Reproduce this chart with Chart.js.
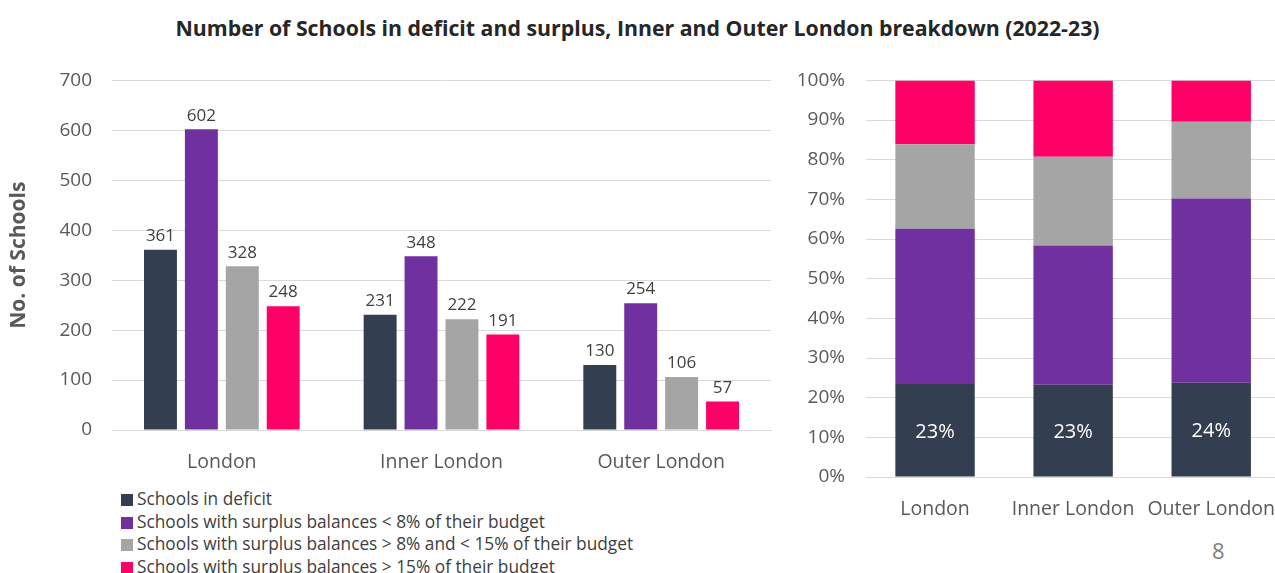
<!DOCTYPE html>
<html>
<head>
<meta charset="utf-8">
<script src="https://cdn.jsdelivr.net/npm/chart.js@4"></script>
<style>
  html, body { margin: 0; padding: 0; background: #ffffff; overflow: hidden; }
  body { width: 1275px; height: 573px; position: relative; font-family: 'Open Sans', sans-serif; }
  #title { position: absolute; left: 0; top: 13px; width: 1275px; text-align: center;
           font-weight: bold; font-size: 21.3px; color: #262626; }
  #countWrap { position: absolute; left: 0; top: 49px; width: 780px; height: 431px; }
  #shareWrap { position: absolute; left: 780px; top: 48px; width: 508px; height: 479px; }
  #legend { position: absolute; left: 121px; top: 488px; font-size: 17.3px; color: #404040; line-height: 22.5px; }
  #legend div { white-space: nowrap; }
  #legend span.box { display: inline-block; width: 12px; height: 12px; margin-right: 4px; vertical-align: -1px; }
  #page { position: absolute; left: 1212px; top: 535px; font-size: 22px; color: #7f7f7f; }
</style>
</head>
<body>
<div id="title">Number of Schools in deficit and surplus, Inner and Outer London breakdown (2022-23)</div>
<div id="countWrap"><canvas id="counts"></canvas></div>
<div id="shareWrap"><canvas id="shares"></canvas></div>
<div id="legend"></div>
<div id="page">8</div>
<script>
// Areas and school counts per balance band
const areas = ['London', 'Inner London', 'Outer London'];
const deficit = [361, 231, 130];
const surplusUnder8 = [602, 348, 254];
const surplus8to15 = [328, 222, 106];
const surplusOver15 = [248, 191, 57];

const seriesNames = [
  'Schools in deficit',
  'Schools with surplus balances < 8% of their budget',
  'Schools with surplus balances > 8% and < 15% of their budget',
  'Schools with surplus balances > 15% of their budget'
];
const seriesColors = ['#333f50', '#7030a0', '#a5a5a5', '#ff0066'];
const seriesValues = [deficit, surplusUnder8, surplus8to15, surplusOver15];

Chart.defaults.font.family = "'Open Sans', sans-serif";
Chart.defaults.color = '#595959';

// Shares of each area's total, in percent
const totals = areas.map((_, i) => seriesValues.reduce((s, arr) => s + arr[i], 0));
const shareValues = seriesValues.map(arr => arr.map((v, i) => v / totals[i] * 100));

// Count labels above each bar
const countLabels = {
  id: 'countLabels',
  afterDatasetsDraw(chart) {
    const ctx = chart.ctx;
    ctx.save();
    ctx.font = "17px 'Open Sans', sans-serif";
    ctx.fillStyle = '#404040';
    ctx.textAlign = 'center';
    ctx.textBaseline = 'bottom';
    chart.data.datasets.forEach((ds, i) => {
      chart.getDatasetMeta(i).data.forEach((bar, j) => {
        ctx.fillText(String(ds.data[j]), bar.x, bar.y - 5);
      });
    });
    ctx.restore();
  }
};

// Percentage label inside the deficit segment
const deficitShareLabels = {
  id: 'deficitShareLabels',
  afterDatasetsDraw(chart) {
    const ctx = chart.ctx;
    const meta = chart.getDatasetMeta(0);
    ctx.save();
    ctx.font = "20px 'Open Sans', sans-serif";
    ctx.fillStyle = '#ffffff';
    ctx.textAlign = 'center';
    ctx.textBaseline = 'middle';
    meta.data.forEach((bar, j) => {
      const v = chart.data.datasets[0].data[j];
      ctx.fillText(Math.round(v) + '%', bar.x, (bar.y + bar.base) / 2 + 2);
    });
    ctx.restore();
  }
};

new Chart(document.getElementById('counts'), {
  type: 'bar',
  data: {
    labels: areas,
    datasets: seriesNames.map((name, i) => ({
      label: name,
      data: seriesValues[i],
      backgroundColor: seriesColors[i],
      categoryPercentage: 0.745,
      barPercentage: 0.805
    }))
  },
  options: {
    responsive: true,
    maintainAspectRatio: false,
    animation: false,
    layout: { padding: { top: 8, right: 9, left: 0, bottom: 0 } },
    plugins: { legend: { display: false }, tooltip: { enabled: false } },
    scales: {
      x: {
        grid: { display: false },
        border: { color: '#d9d9d9' },
        ticks: { font: { size: 19.5 }, color: '#595959', padding: 13 },
        afterFit(scale) { scale.height = 50; }
      },
      y: {
        min: 0, max: 700,
        ticks: { stepSize: 100, font: { size: 19 }, color: '#595959', padding: 20 },
        grid: { color: '#d9d9d9', drawTicks: false },
        border: { display: false },
        title: { display: true, text: 'No. of Schools', font: { size: 21, weight: 'bold' }, color: '#595959', padding: { top: 6, bottom: 0 } },
        afterFit(scale) { scale.width = 112; }
      }
    }
  },
  plugins: [countLabels]
});

new Chart(document.getElementById('shares'), {
  type: 'bar',
  data: {
    labels: areas,
    datasets: seriesNames.map((name, i) => ({
      label: name,
      data: shareValues[i],
      backgroundColor: seriesColors[i],
      categoryPercentage: 1,
      barPercentage: 0.575
    }))
  },
  options: {
    responsive: true,
    maintainAspectRatio: false,
    animation: false,
    layout: { padding: { top: 9, right: 0, left: 0, bottom: 0 } },
    plugins: { legend: { display: false }, tooltip: { enabled: false } },
    scales: {
      x: {
        stacked: true,
        grid: { display: false },
        border: { color: '#d9d9d9' },
        ticks: { font: { size: 19.5 }, color: '#595959', padding: 13 },
        afterFit(scale) { scale.height = 50; }
      },
      y: {
        stacked: true,
        min: 0, max: 100,
        ticks: { stepSize: 10, font: { size: 19 }, color: '#595959', padding: 21, callback: v => v + '%' },
        grid: { color: '#d9d9d9', drawTicks: false },
        border: { display: false },
        afterFit(scale) { scale.width = 86; }
      }
    }
  },
  plugins: [deficitShareLabels]
});

// Legend list under the count chart
const legendEl = document.getElementById('legend');
seriesNames.forEach((name, i) => {
  const row = document.createElement('div');
  const box = document.createElement('span');
  box.className = 'box';
  box.style.background = seriesColors[i];
  row.appendChild(box);
  row.appendChild(document.createTextNode(name));
  legendEl.appendChild(row);
});
</script>
</body>
</html>
